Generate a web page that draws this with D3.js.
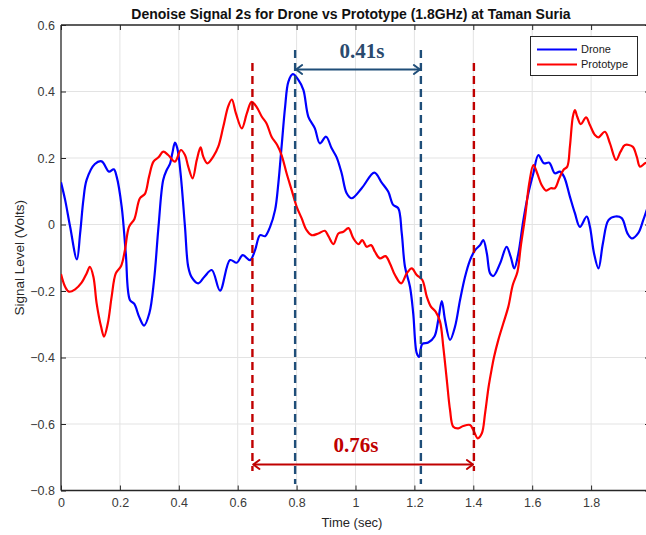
<!DOCTYPE html>
<html><head><meta charset="utf-8">
<script src="https://cdn.jsdelivr.net/npm/d3@7"></script>
<style>body{margin:0;background:#fff} svg{display:block}</style>
</head><body>
<svg id="chart" width="646" height="535"></svg>
<script>
// ---------- data ----------
const droneTime = [0,0.014,0.031,0.054,0.065,0.076,0.087,0.115,0.138,0.163,0.179,0.189,0.206,0.22,0.234,0.249,0.265,0.282,0.3,0.316,0.331,0.347,0.359,0.37,0.378,0.387,0.395,0.406,0.421,0.432,0.444,0.466,0.487,0.512,0.54,0.574,0.597,0.617,0.642,0.659,0.676,0.693,0.71,0.727,0.738,0.749,0.761,0.772,0.787,0.806,0.823,0.84,0.862,0.879,0.9,0.919,0.936,0.953,0.97,0.987,1.021,1.064,1.089,1.111,1.128,1.145,1.157,1.168,1.185,1.196,1.208,1.216,1.227,1.247,1.268,1.281,1.293,1.304,1.321,1.338,1.355,1.372,1.389,1.406,1.423,1.434,1.446,1.457,1.468,1.491,1.513,1.527,1.539,1.553,1.57,1.587,1.604,1.621,1.64,1.658,1.677,1.694,1.708,1.728,1.745,1.762,1.785,1.796,1.81,1.825,1.84,1.859,1.882,1.904,1.923,1.938,1.96,1.977,1.995];
const droneSignal = [0.127,0.074,-0.007,-0.105,-0.026,0.074,0.134,0.182,0.19,0.159,0.166,0.144,0.054,-0.087,-0.227,-0.239,-0.277,-0.304,-0.267,-0.167,-0.007,0.134,0.164,0.182,0.214,0.246,0.229,0.154,-0.007,-0.127,-0.159,-0.177,-0.157,-0.137,-0.199,-0.107,-0.115,-0.092,-0.107,-0.077,-0.032,-0.035,-0.007,0.044,0.124,0.234,0.354,0.429,0.452,0.435,0.405,0.324,0.289,0.244,0.264,0.229,0.202,0.154,0.094,0.079,0.109,0.156,0.126,0.099,0.059,0.049,-0.026,-0.127,-0.187,-0.267,-0.387,-0.398,-0.359,-0.355,-0.337,-0.287,-0.23,-0.287,-0.347,-0.307,-0.227,-0.157,-0.107,-0.077,-0.062,-0.047,-0.087,-0.147,-0.155,-0.117,-0.067,-0.097,-0.132,-0.087,0.013,0.094,0.154,0.209,0.184,0.186,0.154,0.159,0.144,0.084,0.034,-0.007,0.024,-0.007,-0.087,-0.132,-0.057,0.013,0.024,0.019,-0.026,-0.042,-0.026,0.013,0.06];
const protoTime = [0,0.014,0.027,0.048,0.07,0.087,0.098,0.11,0.121,0.136,0.146,0.159,0.172,0.186,0.204,0.217,0.231,0.249,0.268,0.285,0.299,0.314,0.331,0.347,0.364,0.387,0.407,0.421,0.432,0.447,0.461,0.474,0.483,0.497,0.517,0.534,0.551,0.568,0.58,0.594,0.614,0.631,0.647,0.664,0.682,0.698,0.715,0.734,0.749,0.766,0.783,0.8,0.817,0.834,0.851,0.874,0.896,0.908,0.925,0.942,0.959,0.976,0.993,1.01,1.023,1.038,1.053,1.066,1.083,1.102,1.117,1.134,1.155,1.174,1.191,1.208,1.227,1.242,1.256,1.272,1.287,1.298,1.31,1.321,1.332,1.349,1.366,1.389,1.4,1.415,1.429,1.44,1.452,1.463,1.47,1.485,1.502,1.519,1.534,1.55,1.561,1.576,1.59,1.604,1.617,1.632,1.647,1.663,1.677,1.692,1.706,1.719,1.728,1.738,1.745,1.753,1.765,1.783,1.796,1.813,1.825,1.847,1.864,1.885,1.9,1.915,1.941,1.955,1.966,1.983,2.0];
const protoSignal = [-0.149,-0.187,-0.202,-0.195,-0.175,-0.147,-0.127,-0.157,-0.237,-0.307,-0.337,-0.297,-0.217,-0.147,-0.125,-0.077,-0.007,0.016,0.079,0.092,0.144,0.189,0.202,0.219,0.209,0.189,0.224,0.209,0.174,0.139,0.194,0.232,0.204,0.184,0.204,0.234,0.294,0.356,0.376,0.334,0.289,0.334,0.369,0.354,0.324,0.304,0.264,0.239,0.209,0.154,0.104,0.054,0.019,-0.017,-0.032,-0.027,-0.019,-0.035,-0.059,-0.027,-0.022,-0.011,-0.042,-0.059,-0.047,-0.067,-0.062,-0.082,-0.102,-0.095,-0.117,-0.152,-0.177,-0.147,-0.132,-0.152,-0.167,-0.217,-0.247,-0.262,-0.292,-0.367,-0.467,-0.558,-0.608,-0.613,-0.606,-0.603,-0.618,-0.643,-0.628,-0.568,-0.488,-0.432,-0.4,-0.347,-0.297,-0.247,-0.182,-0.142,-0.067,0.024,0.124,0.179,0.154,0.119,0.102,0.109,0.109,0.139,0.164,0.174,0.234,0.324,0.344,0.324,0.302,0.322,0.299,0.269,0.262,0.279,0.244,0.194,0.219,0.239,0.234,0.204,0.174,0.184,0.19];
const seriesNames = ["Drone", "Prototype"];
const xTicks = [0, 0.2, 0.4, 0.6, 0.8, 1, 1.2, 1.4, 1.6, 1.8];
const yTicks = [0.6, 0.4, 0.2, 0, -0.2, -0.4, -0.6, -0.8];
const droneMarkers = [0.795, 1.222];   // dashed navy lines, span 0.41 s
const protoMarkers = [0.65, 1.402];    // dashed red lines, span 0.76 s
const spanLabels = ["0.41s", "0.76s"];
const titleText = "Denoise Signal 2s for Drone vs Prototype (1.8GHz) at Taman Suria";

// ---------- layout ----------
const svg = d3.select("#chart");
const L = 61, R = 650, T = 25, B = 490.5;
const x = d3.scaleLinear().domain([0, 2]).range([L, R]);
const y = d3.scaleLinear().domain([-0.8, 0.6]).range([B, T]);
const font = "'Liberation Sans', Arial, Helvetica, sans-serif";
const axisCol = "#262626";

svg.append("rect").attr("width", 646).attr("height", 535).attr("fill", "#fff");

// grid
const grid = svg.append("g").attr("stroke", "#e3e3e3").attr("stroke-width", 1);
grid.selectAll(".gx").data(xTicks.slice(1)).join("line")
  .attr("x1", d => x(d)).attr("x2", d => x(d)).attr("y1", T).attr("y2", B);
grid.selectAll(".gy").data(yTicks.slice(1, -1)).join("line")
  .attr("x1", L).attr("x2", R).attr("y1", d => y(d)).attr("y2", d => y(d));

// axes (MATLAB box style, ticks inside)
const fmt = d => (d === 0 ? "0" : d3.format("")(Math.round(d * 10) / 10));
const gx = svg.append("g").attr("transform", `translate(0,${B})`)
  .call(d3.axisBottom(x).tickValues(xTicks).tickSize(-5).tickPadding(8).tickFormat(fmt));
const gxt = svg.append("g").attr("transform", `translate(0,${T})`)
  .call(d3.axisTop(x).tickValues(xTicks).tickSize(-5).tickFormat(""));
const gy = svg.append("g").attr("transform", `translate(${L},0)`)
  .call(d3.axisLeft(y).tickValues(yTicks).tickSize(-5).tickPadding(6).tickFormat(fmt));
const gyr = svg.append("g").attr("transform", `translate(${R},0)`)
  .call(d3.axisRight(y).tickValues(yTicks).tickSize(-5).tickFormat(""));
[gx, gxt, gy, gyr].forEach(g => {
  g.selectAll(".domain").attr("stroke", axisCol).attr("stroke-width", 1.3);
  g.selectAll(".tick line").attr("stroke", axisCol).attr("stroke-width", 1);
  g.selectAll("text").attr("font-family", font).attr("font-size", 12.5).attr("fill", "#3a3a3a");
});
gy.selectAll(".domain").attr("d", `M0,${T}V${B}`);
gyr.selectAll(".domain").attr("d", `M0,${T}V${B}`);
gx.selectAll(".domain").attr("d", `M${L},0H${R}`);
gxt.selectAll(".domain").attr("d", `M${L},0H${R}`);

// data lines
const clip = svg.append("clipPath").attr("id", "clip").append("rect")
  .attr("x", L).attr("y", T).attr("width", R - L).attr("height", B - T);
const line = d3.line().x(d => x(d[0])).y(d => y(d[1])).curve(d3.curveCatmullRom.alpha(0.5));
const drone = droneTime.map((t, i) => [t, droneSignal[i]]);
const proto = protoTime.map((t, i) => [t, protoSignal[i]]);
const plot = svg.append("g").attr("clip-path", "url(#clip)");
plot.append("path").datum(drone).attr("d", line).attr("fill", "none")
  .attr("stroke", "#0000ff").attr("stroke-width", 2.2).attr("stroke-linejoin", "round");
plot.append("path").datum(proto).attr("d", line).attr("fill", "none")
  .attr("stroke", "#ff0000").attr("stroke-width", 2.2).attr("stroke-linejoin", "round");

// annotations
const navy = "#1f4e79", dred = "#c00000";
const ann = svg.append("g");
ann.selectAll(".nv").data(droneMarkers).join("line")
  .attr("x1", d => x(d)).attr("x2", d => x(d)).attr("y1", 50).attr("y2", 484)
  .attr("stroke", navy).attr("stroke-width", 2.4).attr("stroke-dasharray", "8,5");
ann.selectAll(".rd").data(protoMarkers).join("line")
  .attr("x1", d => x(d)).attr("x2", d => x(d)).attr("y1", 63).attr("y2", 471)
  .attr("stroke", dred).attr("stroke-width", 2.4).attr("stroke-dasharray", "8,5");

function dblArrow(x1, x2, yy, col) {
  const g = ann.append("g").attr("stroke", col).attr("stroke-width", 2).attr("fill", "none")
    .attr("stroke-linecap", "round").attr("stroke-linejoin", "round");
  g.append("line").attr("x1", x1 + 1).attr("x2", x2 - 1).attr("y1", yy).attr("y2", yy);
  g.append("path").attr("d", `M${x1 + 7},${yy - 4.5}L${x1 + 1},${yy}L${x1 + 7},${yy + 4.5}`);
  g.append("path").attr("d", `M${x2 - 7},${yy - 4.5}L${x2 - 1},${yy}L${x2 - 7},${yy + 4.5}`);
}
dblArrow(x(droneMarkers[0]), x(droneMarkers[1]), 69.5, navy);
dblArrow(x(protoMarkers[0]), x(protoMarkers[1]), 464.5, dred);

const serif = "'Liberation Serif', 'Times New Roman', serif";
ann.append("text").attr("x", 362).attr("y", 58).attr("text-anchor", "middle")
  .attr("font-family", serif).attr("font-weight", "bold").attr("font-size", 21)
  .attr("fill", "#2a4a6e").text(spanLabels[0]);
ann.append("text").attr("x", 356).attr("y", 452).attr("text-anchor", "middle")
  .attr("font-family", serif).attr("font-weight", "bold").attr("font-size", 21)
  .attr("fill", dred).text(spanLabels[1]);

// legend
const lg = svg.append("g");
lg.append("rect").attr("x", 530.5).attr("y", 36.5).attr("width", 107).attr("height", 39)
  .attr("fill", "#fff").attr("stroke", axisCol).attr("stroke-width", 1);
const lgCols = ["#0000ff", "#ff0000"];
seriesNames.forEach((n, i) => {
  const yy = 49.5 + i * 15;
  lg.append("line").attr("x1", 537).attr("x2", 577).attr("y1", yy).attr("y2", yy)
    .attr("stroke", lgCols[i]).attr("stroke-width", 2.2);
  lg.append("text").attr("x", 581).attr("y", yy).attr("dy", "0.35em")
    .attr("font-family", font).attr("font-size", 11).attr("fill", "#1a1a1a").text(n);
});

// titles
svg.append("text").attr("x", 351).attr("y", 19).attr("text-anchor", "middle")
  .attr("font-family", font).attr("font-weight", "bold").attr("font-size", 14)
  .attr("fill", "#111").text(titleText);
svg.append("text").attr("x", 352).attr("y", 527).attr("text-anchor", "middle")
  .attr("font-family", font).attr("font-size", 13).attr("fill", "#262626").text("Time (sec)");
svg.append("text").attr("transform", `translate(24,${(T + B) / 2}) rotate(-90)`)
  .attr("text-anchor", "middle").attr("font-family", font).attr("font-size", 13.5)
  .attr("fill", "#262626").text("Signal Level (Volts)");
</script>
</body></html>
